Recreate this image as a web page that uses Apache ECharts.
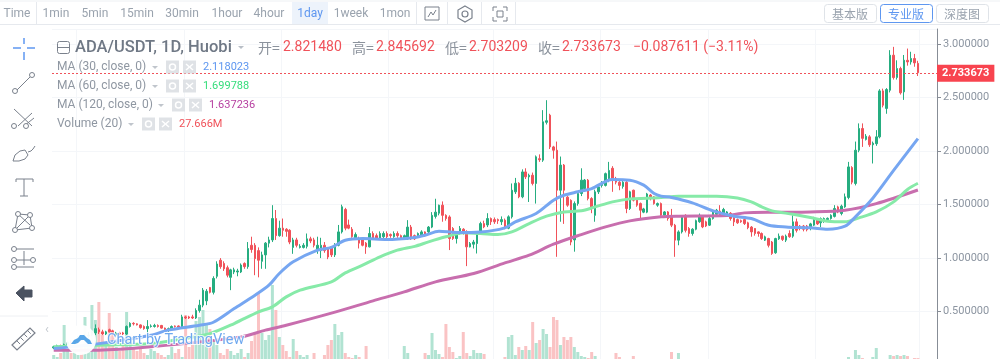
<!DOCTYPE html>
<html>
<head>
<meta charset="utf-8">
<title>ADA/USDT</title>
<script src="https://cdn.jsdelivr.net/npm/echarts@6/dist/echarts.min.js"></script>
<style>
html, body { margin: 0; padding: 0; background: #fff; }
#chart { width: 1000px; height: 359px; }
</style>
</head>
<body>
<div id="chart"></div>
<script>
// daily candles: [open, close, low, high]
let candles = [
[.16,.17,.15,.18],[.17,.18,.16,.19],[.18,.17,.16,.19],[.17,.19,.16,.20],[.19,.21,.18,.22],[.21,.20,.19,.23],[.20,.23,.19,.24],[.23,.25,.22,.27],[.25,.24,.23,.26],[.24,.27,.23,.29],
[.27,.28,.25,.31],[.28,.31,.27,.33],[.30,.34,.28,.38],[.33,.31,.29,.35],[.31,.29,.28,.33],[.29,.31,.28,.32],[.33,.31,.30,.34],[.32,.29,.28,.33],[.28,.30,.26,.31],[.30,.29,.28,.31],
[.30,.29,.28,.31],[.29,.36,.28,.37],[.36,.39,.35,.40],[.39,.385,.37,.40],[.385,.375,.37,.39],[.375,.35,.34,.38],[.36,.34,.33,.37],[.34,.36,.28,.42],[.36,.365,.35,.38],[.36,.37,.35,.385],
[.37,.36,.35,.38],[.37,.345,.34,.375],[.345,.33,.32,.35],[.33,.34,.31,.35],[.34,.36,.33,.37],[.365,.36,.35,.37],[.365,.355,.35,.37],[.35,.45,.34,.47],[.45,.44,.43,.46],[.45,.44,.43,.46],
[.45,.44,.43,.47],[.44,.51,.43,.53],[.51,.56,.49,.61],[.56,.70,.54,.72],[.60,.69,.56,.71],[.725,.68,.67,.73],[.68,.81,.66,.83],[.83,.945,.81,.97],[.98,.92,.90,1.00],[.95,.90,.88,.97],
[.91,.84,.82,.93],[.82,.89,.70,.90],[.87,.89,.85,.91],[.87,.88,.83,.90],[.87,.935,.86,.95],[.95,.92,.90,.96],[.92,1.09,.90,1.15],[1.12,1.08,1.05,1.20],[1.12,.995,.84,1.14],[1.07,.98,.82,1.10],
[.97,1.03,.90,1.06],[1.03,1.14,.90,1.15],[1.14,1.17,1.10,1.20],[1.17,1.37,1.15,1.495],[1.37,1.21,1.17,1.45],[1.21,1.28,1.20,1.35],[1.28,1.26,1.20,1.37],[1.27,1.25,1.20,1.28],[1.26,1.15,1.13,1.27],[1.10,1.17,1.04,1.19],
[1.17,1.12,1.10,1.19],[1.10,1.11,1.09,1.13],[1.10,1.12,1.09,1.14],[1.11,1.18,1.09,1.23],[1.18,1.16,1.14,1.20],[1.17,1.12,1.10,1.19],[1.07,1.12,1.04,1.20],[1.07,1.12,1.00,1.19],[1.12,1.07,1.05,1.15],[1.09,1.01,.99,1.10],
[1.105,1.03,1.01,1.11],[1.03,1.12,1.01,1.14],[1.12,1.245,1.11,1.31],[1.245,1.48,1.23,1.50],[1.455,1.28,1.26,1.47],[1.31,1.28,1.27,1.36],[1.27,1.20,1.19,1.29],[1.19,1.22,1.17,1.24],[1.18,1.14,1.09,1.20],[1.17,1.12,1.11,1.18],
[1.14,1.105,1.04,1.15],[1.105,1.23,1.10,1.29],[1.23,1.18,1.17,1.25],[1.21,1.18,1.17,1.23],[1.18,1.23,1.17,1.25],[1.20,1.23,1.18,1.25],[1.23,1.20,1.18,1.25],[1.22,1.21,1.19,1.23],[1.20,1.23,1.19,1.25],[1.23,1.21,1.19,1.25],
[1.21,1.18,1.17,1.22],[1.18,1.21,1.17,1.22],[1.18,1.29,1.17,1.355],[1.29,1.18,1.17,1.31],[1.21,1.18,1.17,1.22],[1.21,1.23,1.20,1.24],[1.215,1.245,1.20,1.26],[1.245,1.215,1.20,1.25],[1.245,1.29,1.23,1.30],[1.29,1.40,1.28,1.43],
[1.39,1.43,1.37,1.555],[1.42,1.495,1.40,1.50],[1.495,1.40,1.34,1.53],[1.40,1.37,1.35,1.41],[1.385,1.183,1.075,1.40],[1.277,1.183,1.17,1.29],[1.183,1.23,1.136,1.25],[1.23,1.277,1.22,1.30],[1.27,1.235,1.22,1.28],[1.245,1.105,.925,1.26],
[1.105,1.136,1.10,1.15],[1.13,1.15,1.09,1.17],[1.136,1.235,1.043,1.25],[1.235,1.323,1.22,1.34],[1.323,1.292,1.28,1.35],[1.31,1.37,1.29,1.42],[1.37,1.34,1.31,1.38],[1.36,1.34,1.32,1.38],[1.36,1.35,1.32,1.37],[1.34,1.36,1.31,1.39],
[1.355,1.285,1.27,1.37],[1.28,1.386,1.27,1.40],[1.386,1.635,1.37,1.698],[1.62,1.70,1.60,1.75],[1.70,1.573,1.56,1.71],[1.573,1.806,1.56,1.83],[1.806,1.76,1.74,1.84],[1.76,1.775,1.525,1.79],[1.775,1.698,1.68,1.80],[1.698,1.947,1.51,1.96],
[1.93,1.92,1.90,1.97],[1.916,2.275,1.90,2.384],[2.27,2.285,2.25,2.477],[2.337,2.04,2.02,2.35],[2.04,2.009,1.93,2.05],[2.009,1.635,1.012,2.09],[1.635,1.87,1.34,1.95],[1.87,1.635,1.32,1.88],[1.57,1.495,1.48,1.58],[1.54,1.15,1.12,1.55],
[1.17,1.51,1.06,1.53],[1.51,1.604,1.49,1.62],[1.604,1.729,1.58,1.84],[1.65,1.73,1.63,1.74],[1.729,1.557,1.54,1.74],[1.557,1.464,1.42,1.57],[1.40,1.62,1.34,1.64],[1.62,1.666,1.60,1.68],[1.68,1.71,1.66,1.72],[1.68,1.79,1.67,1.80],
[1.73,1.82,1.71,1.90],[1.84,1.73,1.62,1.86],[1.745,1.71,1.69,1.76],[1.71,1.68,1.635,1.72],[1.67,1.71,1.65,1.72],[1.71,1.464,1.42,1.72],[1.464,1.62,1.45,1.63],[1.635,1.542,1.53,1.64],[1.557,1.495,1.48,1.56],[1.51,1.448,1.37,1.52],
[1.43,1.46,1.42,1.47],[1.43,1.60,1.42,1.61],[1.59,1.557,1.54,1.60],[1.573,1.51,1.50,1.58],[1.495,1.51,1.48,1.52],[1.51,1.401,1.39,1.52],[1.401,1.432,1.39,1.44],[1.432,1.37,1.35,1.44],[1.386,1.308,1.29,1.46],[1.308,1.168,1.012,1.32],
[1.168,1.245,1.12,1.26],[1.245,1.39,1.23,1.40],[1.40,1.26,1.24,1.41],[1.277,1.23,1.20,1.29],[1.23,1.27,1.21,1.28],[1.27,1.35,1.26,1.36],[1.34,1.40,1.33,1.417],[1.386,1.292,1.28,1.40],[1.339,1.30,1.29,1.35],[1.308,1.37,1.30,1.39],
[1.37,1.432,1.36,1.45],[1.41,1.448,1.40,1.46],[1.44,1.40,1.39,1.495],[1.40,1.455,1.39,1.47],[1.41,1.432,1.40,1.44],[1.42,1.37,1.35,1.43],[1.386,1.339,1.30,1.39],[1.36,1.33,1.32,1.37],[1.35,1.34,1.33,1.36],[1.36,1.323,1.31,1.37],
[1.33,1.285,1.27,1.34],[1.29,1.245,1.20,1.30],[1.277,1.23,1.21,1.28],[1.245,1.23,1.20,1.25],[1.23,1.183,1.17,1.24],[1.168,1.199,1.16,1.21],[1.183,1.12,1.10,1.19],[1.15,1.043,1.03,1.16],[1.05,1.183,1.04,1.19],[1.18,1.205,1.17,1.23],
[1.205,1.175,1.16,1.21],[1.168,1.205,1.15,1.22],[1.23,1.20,1.19,1.26],[1.205,1.339,1.19,1.40],[1.339,1.26,1.24,1.37],[1.30,1.277,1.26,1.31],[1.30,1.27,1.25,1.31],[1.30,1.265,1.25,1.31],[1.277,1.32,1.26,1.33],[1.308,1.355,1.30,1.386],
[1.355,1.32,1.31,1.37],[1.33,1.37,1.29,1.38],[1.345,1.37,1.33,1.38],[1.36,1.372,1.35,1.38],[1.37,1.40,1.36,1.41],[1.39,1.464,1.38,1.495],[1.479,1.432,1.42,1.49],[1.417,1.486,1.40,1.50],[1.479,1.573,1.47,1.604],[1.567,1.853,1.55,1.90],
[1.847,1.71,1.69,1.86],[1.698,2.009,1.68,2.09],[2.009,2.212,1.99,2.26],[2.212,2.12,2.04,2.26],[2.11,2.14,2.10,2.16],[2.134,2.06,2.04,2.15],[2.06,2.075,1.885,2.09],[2.07,2.134,2.05,2.197],[2.134,2.564,2.12,2.58],[2.564,2.43,2.41,2.585],
[2.40,2.577,2.35,2.59],[2.57,2.898,2.55,2.945],[2.898,2.689,2.67,2.976],[2.69,2.773,2.67,2.85],[2.773,2.546,2.53,2.79],[2.555,2.851,2.48,2.90],[2.85,2.835,2.80,2.96],[2.835,2.867,2.81,2.93],[2.867,2.826,2.79,2.91],[2.82148,2.733673,2.703209,2.845692]
];

// volume in millions, one per candle
let volumes = [
40,32,48,160,56,48,64,40,72,192,104,240,180,252,120,88,208,120,72,56,
80,212,112,72,56,64,48,40,64,56,48,40,32,40,72,48,64,32,200,72,
80,176,192,220,160,144,96,80,48,40,64,56,40,48,64,32,48,96,128,288,
128,100,120,320,220,112,80,56,32,104,56,40,32,40,24,48,16,24,40,80,
100,164,120,132,48,32,28,40,32,24,76,20,16,12,16,12,16,12,16,12,
20,76,48,16,20,16,12,48,40,128,60,44,32,164,72,52,28,36,132,48,
36,60,48,48,44,24,20,16,16,20,32,112,120,40,72,60,76,60,172,88,
100,144,124,72,192,180,80,112,100,112,72,52,36,32,28,52,36,24,20,16,
20,24,48,32,20,16,14,36,20,16,12,16,12,14,16,18,14,16,52,24,
48,20,16,18,14,12,16,20,14,12,18,16,14,12,16,14,12,10,14,16,
18,14,12,14,16,12,10,14,12,16,18,14,12,10,14,12,16,14,12,14,
12,14,16,14,12,16,14,18,14,32,24,60,40,28,20,16,32,68,24,16,
20,40,36,40,36,40,36,24,28,27.666
];

// moving averages, [bar, price] points
let ma30 = [[0,.154],[13,.20],[28,.279],[33,.326],[42,.372],[46,.40],[52,.528],[58,.653],[62,.747],[65,.856],[69,.965],[76,1.074],[80,1.10],[84,1.167],[89,1.183],[96,1.174],[104,1.193],[107,1.214],[111,1.252],[116,1.24],[123,1.245],[130,1.283],[133,1.339],[139,1.417],[144,1.542],[147,1.588],[151,1.62],[155,1.65],[161,1.735],[166,1.729],[170,1.682],[173,1.604],[175,1.58],[178,1.567],[184,1.517],[190,1.442],[196,1.392],[201,1.37],[206,1.308],[211,1.292],[218,1.283],[223,1.27],[228,1.298],[231,1.386],[236,1.56],[242,1.82],[249,2.118023]];
let ma60 = [[0,.17],[13,.185],[28,.20],[38,.25],[45,.294],[52,.388],[59,.497],[63,.544],[67,.637],[71,.70],[80,.778],[84,.862],[89,.934],[94,1.012],[99,1.074],[104,1.11],[108,1.152],[113,1.199],[118,1.236],[123,1.23],[128,1.22],[132,1.245],[137,1.323],[142,1.392],[147,1.432],[152,1.442],[156,1.479],[161,1.526],[166,1.554],[171,1.56],[175,1.567],[180,1.579],[191,1.579],[197,1.563],[201,1.526],[204,1.479],[207,1.442],[213,1.41],[218,1.38],[223,1.345],[228,1.339],[232,1.376],[237,1.432],[242,1.526],[246,1.642],[249,1.699788]];
let ma120 = [[0,.139],[13,.139],[28,.17],[54,.263],[61,.326],[67,.372],[80,.485],[92,.60],[101,.684],[110,.778],[121,.856],[130,.955],[137,1.027],[144,1.13],[152,1.22],[159,1.292],[166,1.348],[175,1.386],[180,1.392],[194,1.398],[199,1.423],[208,1.429],[218,1.432],[228,1.448],[237,1.51],[249,1.637236]];

let priceTicks = [0.5, 1, 1.5, 2, 2.5, 3];
let monthStarts = [7, 38, 66, 97, 127, 158, 189, 220, 250];
let lastClose = 2.733673;

let periods = ['Time', '1min', '5min', '15min', '30min', '1hour', '4hour', '1day', '1week', '1mon'];
let headerLabels = ['开=', '高=', '低=', '收='];
let headerValues = ['2.821480', '2.845692', '2.703209', '2.733673'];
let studyNames = ['MA (30, close, 0)', 'MA (60, close, 0)', 'MA (120, close, 0)', 'Volume (20)'];
let studyValues = ['2.118023', '1.699788', '1.637236', '27.666M'];
let versions = ['基本版', '专业版', '深度图'];

// layout only
const UP = '#26ad80', DOWN = '#f0525a', BLUE = '#5e97f0', GREY = '#9aa3ae', ICON = '#7a818c';
const FONT = 'Roboto, "Noto Sans", sans-serif', CJK = '"Noto Sans CJK SC", sans-serif';
const EMPTY_SLOTS = 5;
let categories = [];
for (let i = 0; i < candles.length + EMPTY_SLOTS; i++) categories.push(i);

let g = [];
function text(str, x, y, fill, font, align) {
    g.push({type: 'text', silent: true, style: {text: str, x: x, y: y, fill: fill, font: font, textAlign: align || 'left', textVerticalAlign: 'middle'}});
}
function rect(x, y, w, h, fill, stroke, r) {
    g.push({type: 'rect', silent: true, shape: {x: x, y: y, width: w, height: h, r: r || 0}, style: {fill: fill || 'none', stroke: stroke || 'none', lineWidth: 1}});
}
function line(x1, y1, x2, y2, stroke, w) {
    g.push({type: 'line', silent: true, shape: {x1: x1, y1: y1, x2: x2, y2: y2}, style: {stroke: stroke || ICON, lineWidth: w || 1}});
}
function ring(x, y, r) {
    g.push({type: 'circle', silent: true, shape: {cx: x, cy: y, r: r || 2.5}, style: {fill: '#fff', stroke: ICON, lineWidth: 1}});
}
function poly(points, fill, stroke, w) {
    g.push({type: 'polygon', silent: true, shape: {points: points}, style: {fill: fill || 'none', stroke: stroke || 'none', lineWidth: w || 1}});
}

// toolbar
const periodX = [17, 56, 95, 137, 182, 227, 269, 310, 351, 395];
line(0, 1, 1000, 1, '#edf0f3');
line(0, 24.5, 1000, 24.5, '#e6e9ee');
rect(292, 2, 36, 22, '#edf3fb');
periods.forEach(function (p, i) {
    text(p, periodX[i], 14, p === '1day' ? BLUE : GREY, '12px ' + FONT, 'center');
});
[36, 416, 447, 481, 515].forEach(function (x) { line(x + .5, 2, x + .5, 24, '#e6e9ee'); });
rect(425, 7, 14, 13, null, ICON);
g.push({type: 'polyline', silent: true, shape: {points: [[428, 17], [431, 12], [433, 15], [436, 10]]}, style: {stroke: ICON, fill: 'none', lineWidth: 1}});
poly([[465, 6], [472, 10], [472, 18], [465, 22], [458, 18], [458, 10]], null, ICON, 1.2);
g.push({type: 'circle', silent: true, shape: {cx: 465, cy: 14, r: 3}, style: {fill: 'none', stroke: ICON, lineWidth: 1.2}});
[[493, 7, 4], [507, 7, -4], [493, 21, 4], [507, 21, -4]].forEach(function (c) {
    line(c[0], c[1], c[0] + c[2], c[1], ICON);
    line(c[0], c[1], c[0], c[1] + (c[1] < 14 ? 4 : -4), ICON);
});
rect(497, 11, 6, 6, null, ICON);
versions.forEach(function (v, i) {
    let x = 824 + i * 56;
    rect(x + .5, 4.5, 52, 18, '#fff', i === 1 ? BLUE : '#dfe3e8', 3);
    text(v, x + 26, 14, i === 1 ? BLUE : GREY, '12px ' + CJK, 'center');
});

// drawing tools on the left
line(13, 48, 21, 48, BLUE, 1.5); line(27, 48, 35, 48, BLUE, 1.5);
line(24, 38, 24, 44, BLUE, 1.5); line(24, 52, 24, 60, BLUE, 1.5);
line(16, 91, 31, 76); ring(32, 75); ring(15, 91);
line(14, 109, 32, 126); line(18, 126, 32, 113); line(24, 126, 34, 118); ring(14, 126); ring(26, 126);
poly([[13, 161], [15, 155], [20, 151], [25, 150], [28, 155], [25, 159], [19, 161]], null, ICON);
g.push({type: 'polyline', silent: true, shape: {points: [[28, 152], [31, 151], [33, 149], [35, 146]]}, style: {stroke: ICON, fill: 'none', lineWidth: 1}});
line(16, 179, 33, 179); line(24, 179, 24, 196); line(20, 196, 28, 196); line(16, 179, 16, 182); line(33, 179, 33, 182);
line(15, 230, 18, 214); line(18, 214, 30, 225); line(15, 230, 30, 215); line(18, 214, 30, 215); line(30, 215, 32, 228); line(15, 230, 32, 228);
ring(15, 230); ring(18, 214); ring(30, 215); ring(32, 228);
line(16, 249, 34, 249); line(16, 260, 31, 260); line(16, 267, 34, 267); line(24, 251, 24, 265);
ring(14, 249); ring(14, 260); ring(33, 260); ring(14, 267);
poly([[16, 293], [24, 286], [24, 290], [32, 290], [32, 297], [24, 297], [24, 301]], '#4a5260', '#4a5260', 1);
line(0, 316, 48, 316, '#eef0f3');
poly([[12, 345], [30, 328], [35, 333], [17, 350]], null, ICON, 1.2);
[0, 1, 2, 3].forEach(function (k) { line(17 + k * 3.6, 341 - k * 3.4, 20 + k * 3.6, 344 - k * 3.4); });
text('‹', 47, 330, '#c4c9d0', '13px ' + FONT, 'center');

// header
rect(57.5, 41.5, 12, 12, null, ICON, 2);
line(58, 47.5, 69, 47.5);
text('ADA/USDT, 1D, Huobi', 75, 47.5, '#6f7885', '500 16.5px ' + FONT);
poly([[238, 46], [244, 46], [241, 49]], '#b8bec6');
const headerLabelX = [258, 352, 445, 538], headerValueX = [283, 376, 469, 562];
headerLabels.forEach(function (l, i) {
    text(l, headerLabelX[i], 47.5, '#8b929c', '14px ' + CJK);
    text(headerValues[i], headerValueX[i], 47.5, DOWN, '14px ' + FONT);
});
text('−0.087611 (−3.11%)', 633, 47.5, DOWN, '14px ' + FONT);

// study rows
const studyColors = [BLUE, '#35dd7b', '#b63fa0', DOWN];
const studyBoxX = [172, 172, 178, 148], studyValueX = [203, 203, 209, 179];
studyNames.forEach(function (n, i) {
    let y = 67 + i * 19;
    text(n, 57, y, '#8f97a2', '12px ' + FONT);
    let bx = studyBoxX[i];
    poly([[bx - 20, y - 1], [bx - 14, y - 1], [bx - 17, y + 2]], '#c0c5cc');
    rect(bx - 6, y - 6.5, 13, 13, '#dfe2e6');
    rect(bx + 11, y - 6.5, 13, 13, '#dfe2e6');
    g.push({type: 'circle', silent: true, shape: {cx: bx + .5, cy: y, r: 3}, style: {fill: 'none', stroke: '#fff', lineWidth: 1.5}});
    line(bx + 14, y - 3, bx + 21, y + 3, '#fff', 1.5);
    line(bx + 21, y - 3, bx + 14, y + 3, '#fff', 1.5);
    text(studyValues[i], studyValueX[i], y, studyColors[i], '11px ' + FONT);
});

// watermark
g.push({type: 'circle', silent: true, z: 20, shape: {cx: 81, cy: 340, r: 15}, style: {fill: 'rgba(255,255,255,.95)'}});
g.push({type: 'polygon', silent: true, z: 21, shape: {points: [[71, 344], [74, 340], [78, 338], [80, 335], [84, 335], [87, 338], [90, 340], [92, 344], [88, 344], [84, 340], [81, 340], [78, 343], [75, 344]]}, style: {fill: '#58a6e8'}});
g.push({type: 'text', silent: true, z: 21, style: {text: 'Chart by TradingView', x: 107, y: 340, fill: '#6ea8ef', stroke: 'rgba(255,255,255,.8)', lineWidth: 2, font: '14.5px ' + FONT, textVerticalAlign: 'middle'}});

let chart = echarts.init(document.getElementById('chart'));
chart.setOption({
    animation: false,
    backgroundColor: '#fff',
    // the bottom of the pane runs a few pixels past the window
    grid: {left: 52, top: 29, width: 885, height: 336, outerBoundsMode: 'none'},
    xAxis: {
        type: 'category',
        data: categories,
        boundaryGap: true,
        axisLine: {show: false},
        axisTick: {show: false},
        axisLabel: {show: false},
        splitLine: {show: true, interval: function (i) { return monthStarts.indexOf(i) >= 0; }, lineStyle: {color: '#f4f6f9'}}
    },
    yAxis: [{
        type: 'value',
        position: 'right',
        min: 0,
        max: 3.143,
        interval: 0.5,
        axisLine: {show: true, lineStyle: {color: '#878d96'}},
        axisTick: {show: true, length: 4, lineStyle: {color: '#878d96'}},
        axisLabel: {
            showMinLabel: false,
            showMaxLabel: false,
            margin: 6,
            color: '#8c95a1',
            fontFamily: 'Roboto',
            fontSize: 11,
            formatter: function (v) { return priceTicks.indexOf(v) >= 0 ? v.toFixed(6) : ''; }
        },
        splitLine: {lineStyle: {color: '#f4f6f9'}}
    }, {
        // volume sits on its own scale behind the price
        type: 'value',
        position: 'left',
        min: 0,
        max: 1344,
        axisLine: {show: false},
        axisTick: {show: false},
        axisLabel: {show: false},
        splitLine: {show: false}
    }],
    series: [{
        name: 'Volume',
        type: 'bar',
        yAxisIndex: 1,
        barWidth: 3,
        z: 1,
        data: volumes.map(function (v, i) {
            let up = candles[i][1] >= candles[i][0];
            return {value: v, itemStyle: {color: up ? '#b1e3d2' : '#fac3c4'}};
        })
    }, {
        name: 'ADA/USDT',
        type: 'candlestick',
        barWidth: 2,
        z: 3,
        data: candles,
        itemStyle: {color: UP, color0: DOWN, borderColor: UP, borderColor0: DOWN, borderWidth: 1}
    }, {
        name: 'MA 120',
        type: 'line',
        smooth: 0.3,
        symbol: 'none',
        z: 4,
        data: ma120,
        lineStyle: {color: '#c86eae', width: 3}
    }, {
        name: 'MA 60',
        type: 'line',
        smooth: 0.3,
        symbol: 'none',
        z: 4,
        data: ma60,
        lineStyle: {color: '#86eaa8', width: 3}
    }, {
        name: 'MA 30',
        type: 'line',
        smooth: 0.3,
        symbol: 'none',
        z: 4,
        data: ma30,
        lineStyle: {color: '#76a6f1', width: 3},
        // last price line and its tag
        markLine: {
            silent: true,
            symbol: 'none',
            animation: false,
            lineStyle: {color: '#f0525a', type: [2, 2], width: 1},
            label: {
                position: 'end',
                distance: 0,
                color: '#fff',
                fontFamily: 'Roboto',
                fontWeight: 'bold',
                fontSize: 11,
                backgroundColor: '#f8444f',
                padding: [3, 5],
                formatter: lastClose.toFixed(6)
            },
            data: [{yAxis: lastClose}]
        }
    }],
    graphic: {elements: g.map(function (e) { e.z = e.z || 10; return e; })}
});
</script>
</body>
</html>
